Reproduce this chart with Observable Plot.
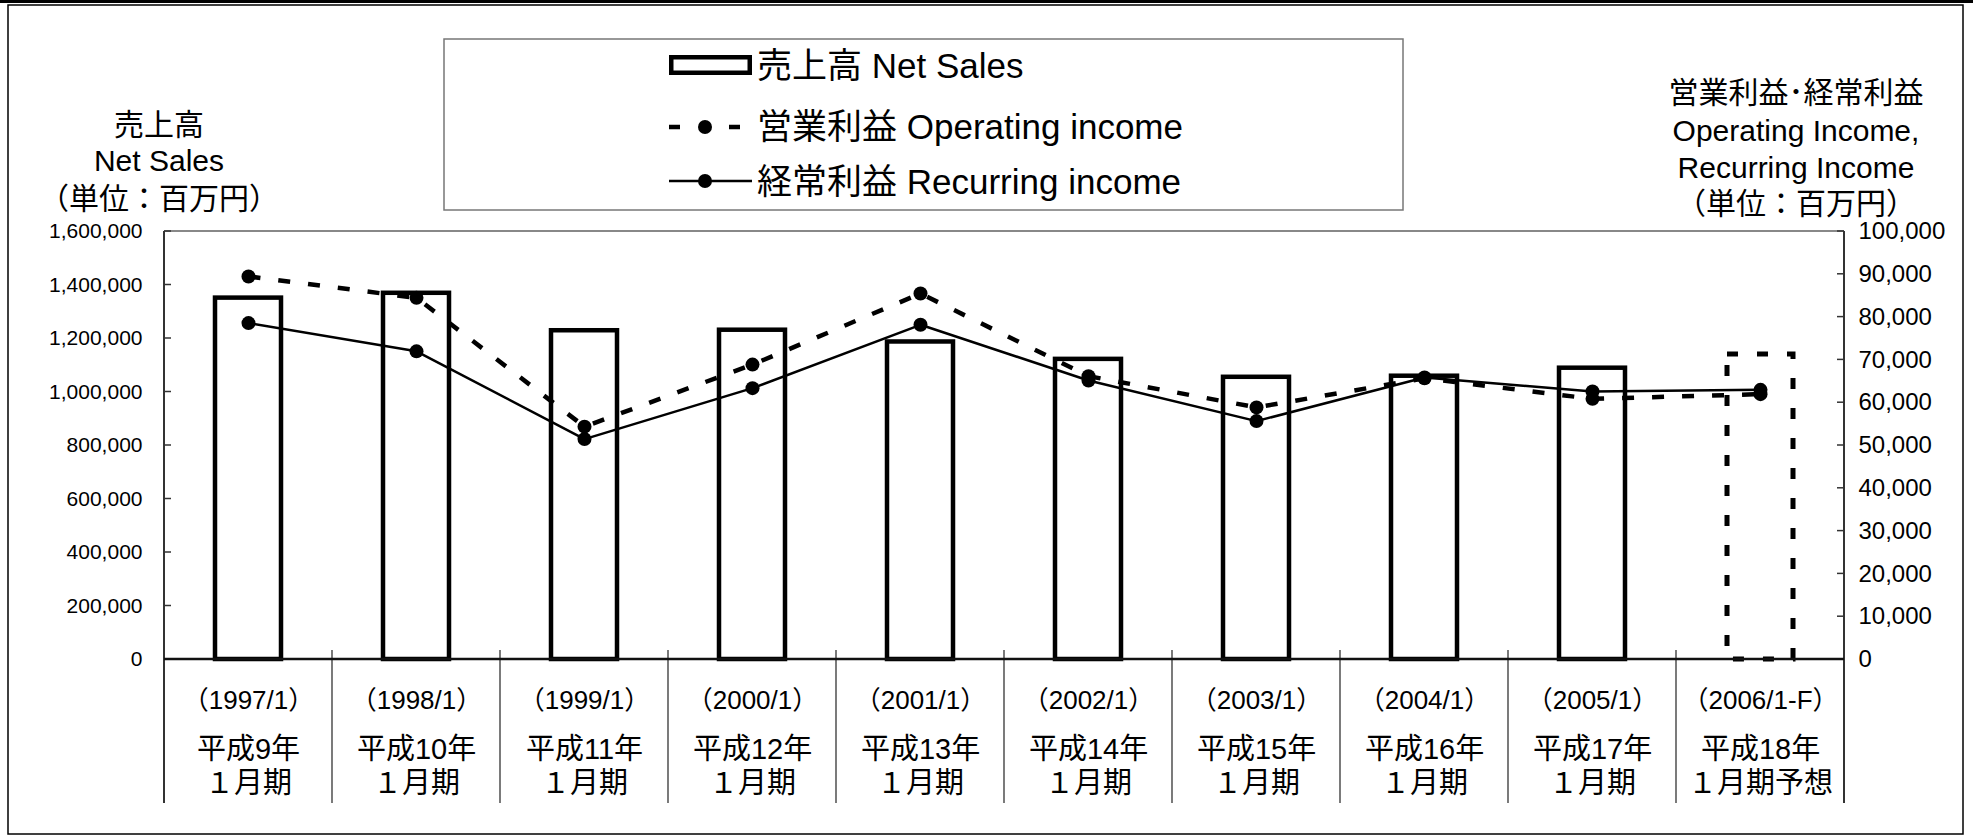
<!DOCTYPE html>
<html>
<head>
<meta charset="utf-8">
<script src="https://cdn.jsdelivr.net/npm/d3@7"></script>
<script src="https://cdn.jsdelivr.net/npm/@observablehq/plot@0.6"></script>
<style>
  html, body { margin: 0; padding: 0; background: white; }
  #chart { width: 1973px; height: 837px; }
</style>
</head>
<body>
<div id="chart"></div>
<script>
// ---- data ----
const periods = ["（1997/1）", "（1998/1）", "（1999/1）", "（2000/1）", "（2001/1）",
                 "（2002/1）", "（2003/1）", "（2004/1）", "（2005/1）", "（2006/1-F）"];
const eraLabels = ["平成9年", "平成10年", "平成11年", "平成12年", "平成13年",
                   "平成14年", "平成15年", "平成16年", "平成17年", "平成18年"];
const termLabels = ["１月期", "１月期", "１月期", "１月期", "１月期",
                    "１月期", "１月期", "１月期", "１月期", "１月期予想"];
const netSales = [1351000, 1369000, 1229000, 1231000, 1187000, 1122000, 1055000, 1059000, 1089000, 1140000];
const operatingIncome = [89500, 84500, 54400, 68900, 85500, 66200, 58900, 65700, 60900, 62000];
const recurringIncome = [78600, 72000, 51500, 63400, 78200, 65200, 55700, 65900, 62600, 63000];
const forecastFlags = [false, false, false, false, false, false, false, false, false, true];
const leftTicks = [0, 200000, 400000, 600000, 800000, 1000000, 1200000, 1400000, 1600000];
const rightTicks = [0, 10000, 20000, 30000, 40000, 50000, 60000, 70000, 80000, 90000, 100000];
const legendLabels = ["売上高 Net Sales", "営業利益 Operating income", "経常利益 Recurring income"];
const leftTitle = ["売上高", "Net Sales", "（単位：百万円）"];
const rightTitle = ["営業利益･経常利益", "Operating Income,", "Recurring Income", "（単位：百万円）"];

const K = 1600000 / 100000; // right axis -> left axis factor
const FONT = "'Liberation Sans', Arial, 'Noto Sans CJK JP', sans-serif";

const data = periods.map((p, i) => ({
  period: p, sales: netSales[i], op: operatingIncome[i], rec: recurringIncome[i], forecast: forecastFlags[i]
}));

const plot = Plot.plot({
  width: 1973, height: 837,
  marginTop: 231, marginBottom: 178, marginLeft: 163, marginRight: 129,
  style: {fontFamily: FONT, fontSize: "21px", color: "black", background: "white", overflow: "visible"},
  x: {domain: periods, paddingInner: 0.61, paddingOuter: 0.305, axis: null},
  y: {domain: [0, 1600000], axis: null},
  marks: [
    Plot.barY(data.filter(d => !d.forecast), {x: "period", y: "sales", fill: "white", stroke: "black", strokeWidth: 4.5}),
    Plot.barY(data.filter(d => d.forecast), {x: "period", y: "sales", fill: "none", stroke: "black", strokeWidth: 5, strokeDasharray: "11,19"}),
    Plot.line(data, {x: "period", y: d => d.op * K, stroke: "black", strokeWidth: 4.5, strokeDasharray: "12,18",
                     strokeLinecap: "butt", strokeLinejoin: "miter"}),
    Plot.line(data, {x: "period", y: d => d.rec * K, stroke: "black", strokeWidth: 2.5}),
    Plot.dot(data, {x: "period", y: d => d.op * K, r: 7, fill: "black"}),
    Plot.dot(data, {x: "period", y: d => d.rec * K, r: 7, fill: "black"}),
    Plot.axisY({anchor: "left", label: null, ticks: leftTicks, tickSize: 0, tickPadding: 21,
                tickFormat: d3.format(","), fontSize: 21}),
    Plot.axisY({anchor: "right", label: null, ticks: rightTicks.map(v => v * K), tickSize: 0, tickPadding: 14,
                tickFormat: d => d3.format(",")(Math.round(d / K)), fontSize: 24}),
    Plot.axisX({label: null, ticks: periods, tickSize: 0, tickPadding: 31, fontSize: 26}),
    Plot.axisX({label: null, ticks: periods, tickSize: 0, tickPadding: 75, fontSize: 29, lineHeight: 1.17,
                tickFormat: d => eraLabels[periods.indexOf(d)] + "\n" + termLabels[periods.indexOf(d)]})
  ]
});

document.getElementById("chart").appendChild(plot);

// ---- decorations drawn from Plot's scales ----
const svg = d3.select(plot);
const xs = plot.scale("x"), ys = plot.scale("y");
const gap = (xs.step - xs.bandwidth) / 2;
const bounds = periods.map(p => xs.apply(p) - gap);
bounds.push(xs.apply(periods[periods.length - 1]) + xs.bandwidth + gap);
const y0 = ys.apply(0), yTop = ys.apply(1600000);
const yBottom = y0 + 144;
const xL = bounds[0], xR = bounds[bounds.length - 1];

const deco = svg.append("g").attr("fill", "none");
deco.append("line").attr("x1", xL).attr("x2", xR).attr("y1", yTop).attr("y2", yTop)
  .attr("stroke", "#888").attr("stroke-width", 2);
[xL, xR].forEach(x => deco.append("line").attr("x1", x).attr("x2", x).attr("y1", yTop).attr("y2", yBottom)
  .attr("stroke", "#333").attr("stroke-width", 2));
bounds.slice(1, -1).forEach(x => deco.append("line").attr("x1", x).attr("x2", x).attr("y1", y0 - 9).attr("y2", yBottom)
  .attr("stroke", "#222").attr("stroke-width", 1.2));
leftTicks.forEach(v => deco.append("line").attr("x1", xL).attr("x2", xL + 7).attr("y1", ys.apply(v)).attr("y2", ys.apply(v))
  .attr("stroke", "#333").attr("stroke-width", 1.5));
rightTicks.forEach(v => deco.append("line").attr("x1", xR - 7).attr("x2", xR).attr("y1", ys.apply(v * K)).attr("y2", ys.apply(v * K))
  .attr("stroke", "#333").attr("stroke-width", 1.5));
deco.append("line").attr("x1", xL).attr("x2", xR).attr("y1", y0).attr("y2", y0)
  .attr("stroke", "#111").attr("stroke-width", 2.5);

// outer frame
svg.append("rect").attr("x", 8).attr("y", 5).attr("width", 1955).attr("height", 829)
  .attr("fill", "none").attr("stroke", "black").attr("stroke-width", 1.5);
svg.append("rect").attr("x", 0).attr("y", 0).attr("width", 1973).attr("height", 3).attr("fill", "black");

// axis titles
const tl = svg.append("g").attr("font-family", FONT).attr("font-size", 30).attr("text-anchor", "middle")
  .attr("fill", "black");
[124, 160, 198].forEach((y, i) => tl.append("text").attr("x", 159).attr("y", y)
  .attr("dominant-baseline", "central").text(leftTitle[i]));
[92, 130, 167, 203].forEach((y, i) => tl.append("text").attr("x", 1796).attr("y", y)
  .attr("dominant-baseline", "central").text(rightTitle[i]));

// legend
const lg = svg.append("g").attr("font-family", FONT).attr("font-size", 35).attr("fill", "black")
  .attr("text-anchor", "start");
lg.append("rect").attr("x", 444).attr("y", 39).attr("width", 959).attr("height", 171)
  .attr("fill", "white").attr("stroke", "#777").attr("stroke-width", 1.5);
lg.append("rect").attr("x", 671.25).attr("y", 57.25).attr("width", 78.5).attr("height", 15.5)
  .attr("fill", "white").attr("stroke", "black").attr("stroke-width", 4.5);
lg.append("line").attr("x1", 669).attr("x2", 752).attr("y1", 127).attr("y2", 127)
  .attr("stroke", "black").attr("stroke-width", 4.5).attr("stroke-dasharray", "11,19");
lg.append("circle").attr("cx", 705).attr("cy", 127).attr("r", 7).attr("fill", "black");
lg.append("line").attr("x1", 669).attr("x2", 752).attr("y1", 181).attr("y2", 181)
  .attr("stroke", "black").attr("stroke-width", 2.5);
lg.append("circle").attr("cx", 705).attr("cy", 181).attr("r", 7).attr("fill", "black");
[65, 126, 181].forEach((y, i) => lg.append("text").attr("x", 757).attr("y", y)
  .attr("dominant-baseline", "central").text(legendLabels[i]));
</script>
</body>
</html>
